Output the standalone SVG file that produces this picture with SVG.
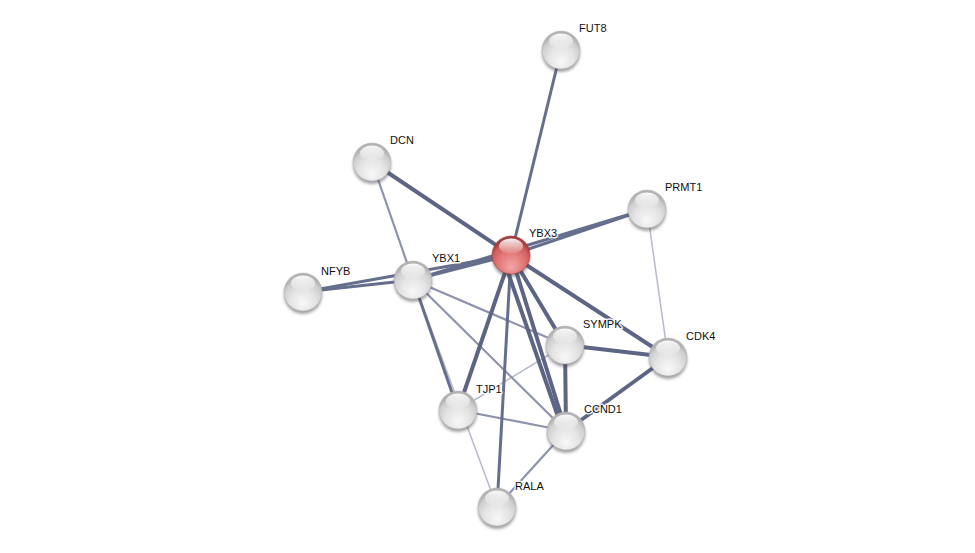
<svg xmlns="http://www.w3.org/2000/svg" width="975" height="553" viewBox="0 0 975 553">
<style>
.e{fill:none;stroke-linecap:butt}
.t{stroke:#5d6585;stroke-width:4}
.m{stroke:#666e8d;stroke-width:3}
.l{stroke:#8d93ad;stroke-width:2.2}
.v{stroke:#b6bacd;stroke-width:1.5}
.lab{font-family:"Liberation Sans",Arial,sans-serif;font-size:11px;fill:#111;stroke:#fff;stroke-width:3;stroke-opacity:.85;paint-order:stroke;stroke-linejoin:round}
.sh{fill:#444;opacity:.5;filter:url(#blur)}
.g{fill:url(#gg);stroke:#b4b4b4;stroke-width:.5}
.r{fill:url(#rg);stroke:#9a3636;stroke-width:.5}
.hl{fill:url(#hg)}
</style>
<defs>
<filter id="blur" x="-50%" y="-50%" width="200%" height="200%"><feGaussianBlur stdDeviation="1.5"/></filter>
<radialGradient id="gg" cx="50%" cy="70%" r="60%" fx="50%" fy="82%">
<stop offset="0" stop-color="#f8f8f8"/>
<stop offset=".55" stop-color="#e4e4e4"/>
<stop offset=".85" stop-color="#cfcfcf"/>
<stop offset="1" stop-color="#b2b2b2"/>
</radialGradient>
<radialGradient id="rg" cx="50%" cy="70%" r="60%" fx="50%" fy="82%">
<stop offset="0" stop-color="#f4a6a6"/>
<stop offset=".55" stop-color="#e27878"/>
<stop offset=".85" stop-color="#cf5c5c"/>
<stop offset="1" stop-color="#a83c3c"/>
</radialGradient>
<linearGradient id="hg" x1="0" y1="0" x2="0" y2="1">
<stop offset="0" stop-color="#fff" stop-opacity=".95"/>
<stop offset="1" stop-color="#fff" stop-opacity=".1"/>
</linearGradient>
<g id="gs"><circle class="sh" cx="0" cy="3" r="19"/><circle class="g" r="19"/><ellipse class="hl" cx="0" cy="-9" rx="12" ry="7.5"/></g>
<g id="rs"><circle class="sh" cx="0" cy="3" r="19"/><circle class="r" r="19"/><ellipse class="hl" cx="0" cy="-9" rx="12" ry="7.5"/></g>
</defs>
<rect width="975" height="553" fill="#fff"/>
<g id="edges" class="e">
<line class="e v" x1="647" y1="209" x2="668" y2="357"/>
<line class="e v" x1="458" y1="410" x2="565" y2="345"/>
<line class="e v" x1="413" y1="280" x2="497" y2="507"/>
<line class="e l" x1="372" y1="162" x2="413" y2="280"/>
<line class="e l" x1="413" y1="280" x2="565" y2="345"/>
<line class="e l" x1="413" y1="280" x2="566" y2="431"/>
<line class="e l" x1="458" y1="410" x2="566" y2="431"/>
<line class="e l" x1="566" y1="431" x2="497" y2="507"/>
<line class="e m" x1="511" y1="255" x2="561" y2="50"/>
<line class="e m" x1="511" y1="255" x2="647" y2="209"/>
<line class="e m" x1="413" y1="280" x2="647" y2="209"/>
<line class="e m" x1="413" y1="280" x2="511" y2="255"/>
<line class="e m" x1="303" y1="292" x2="413" y2="280"/>
<line class="e m" x1="303" y1="292" x2="511" y2="255"/>
<line class="e m" x1="413" y1="280" x2="458" y2="410"/>
<line class="e m" x1="511" y1="255" x2="497" y2="507"/>
<line class="e t" x1="511" y1="255" x2="372" y2="162"/>
<line class="e t" x1="511" y1="255" x2="458" y2="410"/>
<line class="e t" x1="511" y1="255" x2="566" y2="431"/>
<line class="e t" x1="503" y1="258" x2="563" y2="431"/>
<line class="e t" x1="511" y1="255" x2="565" y2="345"/>
<line class="e t" x1="511" y1="255" x2="668" y2="357"/>
<line class="e t" x1="565" y1="345" x2="566" y2="431"/>
<line class="e t" x1="565" y1="345" x2="668" y2="357"/>
<line class="e t" x1="668" y1="357" x2="566" y2="431"/>
</g>
<g id="FUT8"><use href="#gs" x="561" y="50"/><text class="lab" x="579" y="32">FUT8</text></g>
<g id="DCN"><use href="#gs" x="372" y="162"/><text class="lab" x="390" y="144">DCN</text></g>
<g id="PRMT1"><use href="#gs" x="647" y="209"/><text class="lab" x="665" y="191">PRMT1</text></g>
<g id="YBX1"><use href="#gs" x="413" y="280"/><text class="lab" x="432" y="262">YBX1</text></g>
<g id="NFYB"><use href="#gs" x="303" y="292"/><text class="lab" x="321" y="275">NFYB</text></g>
<g id="SYMPK"><use href="#gs" x="565" y="345"/><text class="lab" x="583" y="328">SYMPK</text></g>
<g id="CDK4"><use href="#gs" x="668" y="357"/><text class="lab" x="686" y="340">CDK4</text></g>
<g id="TJP1"><use href="#gs" x="458" y="410"/><text class="lab" x="476" y="393">TJP1</text></g>
<g id="CCND1"><use href="#gs" x="566" y="431"/><text class="lab" x="584" y="413">CCND1</text></g>
<g id="RALA"><use href="#gs" x="497" y="507"/><text class="lab" x="515" y="490">RALA</text></g>
<g id="YBX3"><use href="#rs" x="511" y="255"/><text class="lab" x="529" y="237">YBX3</text></g>
</svg>
